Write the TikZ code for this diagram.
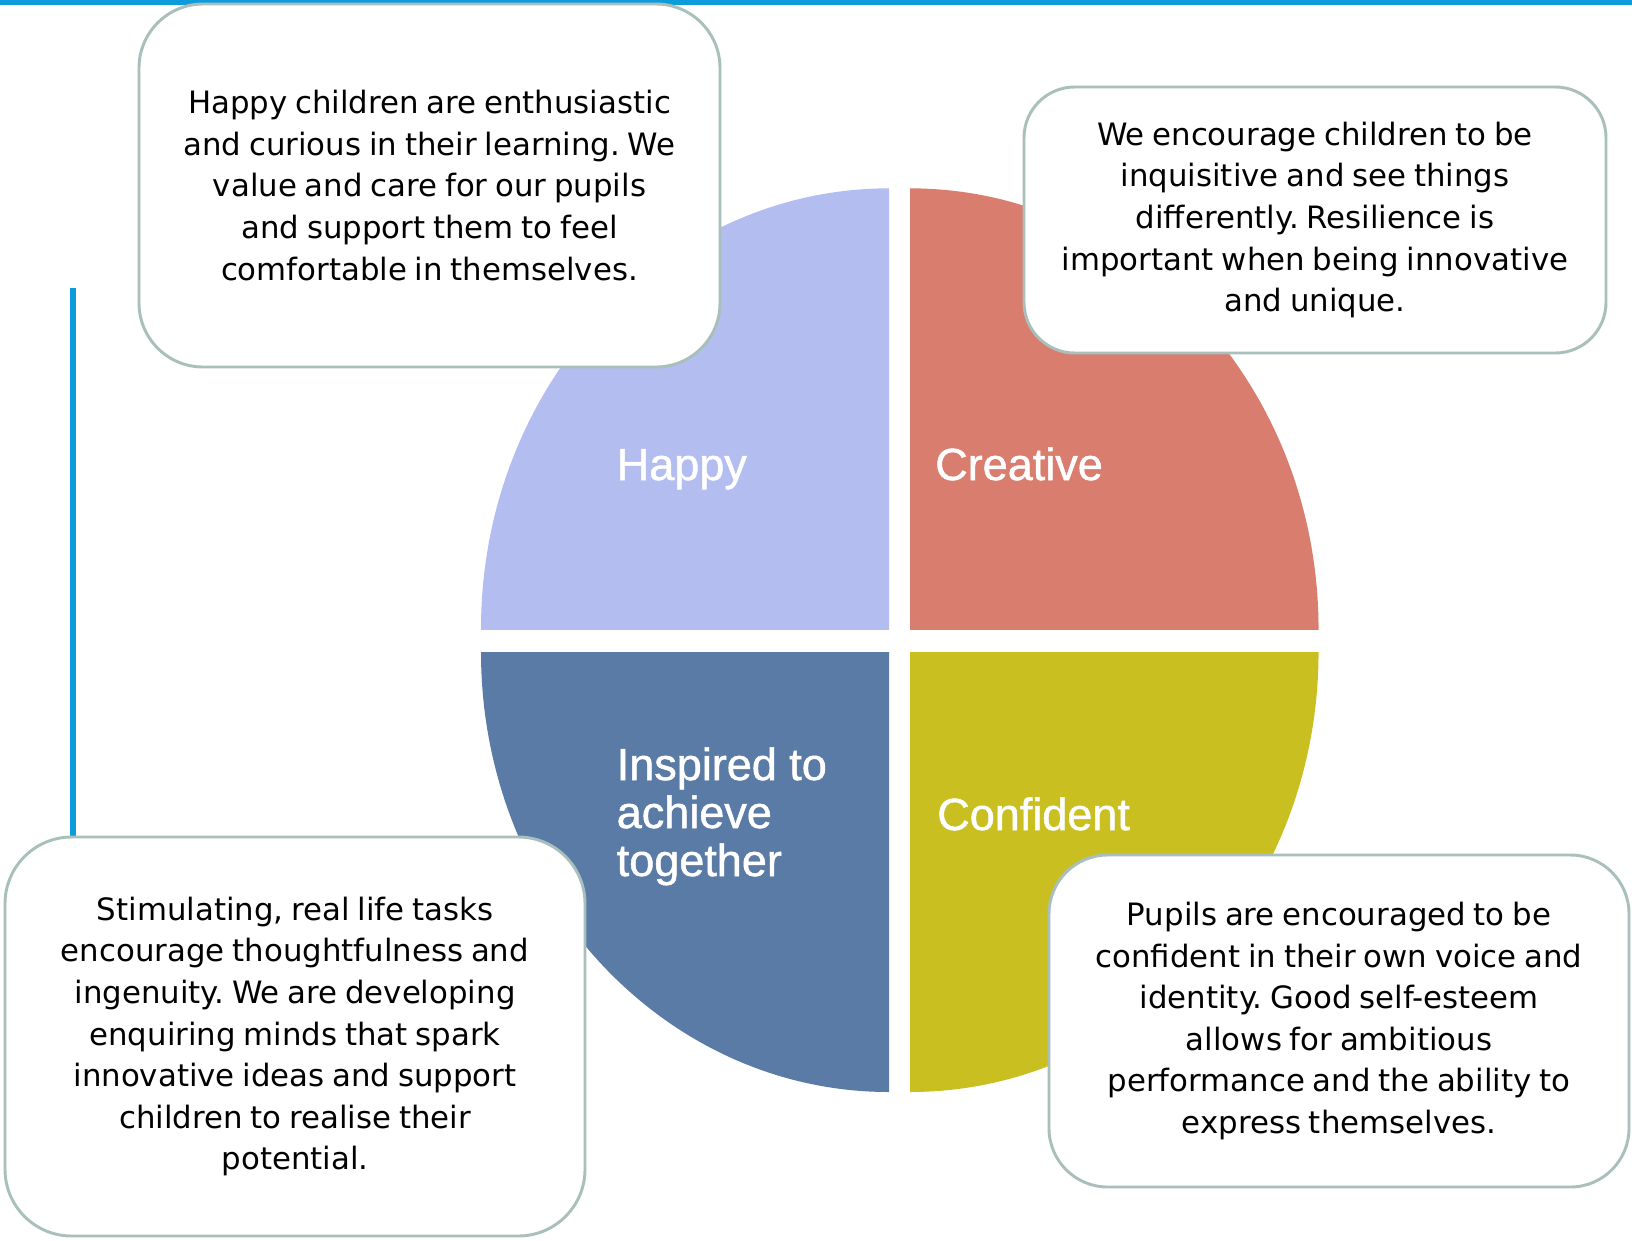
\documentclass[tikz,border=0pt]{standalone}
\usepackage{fontspec}
\setmainfont{Liberation Sans}
\newfontface\labelfont{Liberation Sans}[FakeBold=1.1]
\newfontfamily\descfont{DejaVu Sans}[WordSpace=0.8]
\frenchspacing
\definecolor{happyc}{HTML}{B4BDF0}
\definecolor{creativec}{HTML}{D97D6E}
\definecolor{inspiredc}{HTML}{5A7BA6}
\definecolor{confidentc}{HTML}{C9BF21}
\definecolor{boxline}{HTML}{A9BFBC}
\definecolor{accent}{HTML}{0E9BDB}
\begin{document}
\begin{tikzpicture}[x=0.75pt,y=-0.75pt,
  descbox/.style={draw=boxline, line width=2.2pt, fill=white, align=center,
    inner sep=0pt, font=\descfont\fontsize{23.1pt}{31.2pt}\selectfont},
  qlabel/.style={text=white, inner sep=0pt, anchor=base west, align=left,
    font=\labelfont\fontsize{33.75pt}{36pt}\selectfont}]
\useasboundingbox (0,0) rectangle (1632,1240);
% accent lines
\fill[accent] (0,0) rectangle (1632,5);
\fill[accent] (70,288) rectangle (75.5,837);
% quadrants
\begin{scope}
\clip (470,180) rectangle (889,629);
\fill[happyc] (889,629) ellipse [x radius=306pt, y radius=330.5pt];
\end{scope}
\begin{scope}
\clip (910,180) rectangle (1330,629);
\fill[creativec] (910,629) ellipse [x radius=306.4pt, y radius=330.5pt];
\end{scope}
\begin{scope}
\clip (470,652) rectangle (889,1100);
\fill[inspiredc] (889,652) ellipse [x radius=306pt, y radius=330pt];
\end{scope}
\begin{scope}
\clip (910,652) rectangle (1330,1100);
\fill[confidentc] (910,652) ellipse [x radius=306.4pt, y radius=330pt];
\end{scope}
% labels
\node[qlabel] (lhappy) at (616.5,480) {Happy};
\node[qlabel] (lcreative) at (935,480) {Creative};
\node[qlabel] (linspired) at (616.5,876) {Inspired to\\achieve\\together};
\node[qlabel] (lconfident) at (937,830) {Confident};
% description boxes
\node[descbox, rounded corners=48pt, minimum width=435.75pt, minimum height=272.25pt] (bhappy) at (429.5,185.5)
 {Happy children are enthusiastic\\and curious in their learning. We\\value and care for our pupils\\and support them to feel\\comfortable in themselves.};
\node[descbox, rounded corners=38pt, minimum width=436.5pt, minimum height=199.5pt] (bcreative) at (1315,220)
 {We encourage children to be\\inquisitive and see things\\differently. Resilience is\\important when being innovative\\and unique.};
\node[descbox, rounded corners=50pt, minimum width=435pt, minimum height=299.25pt] (binspired) at (295,1036.5)
 {Stimulating, real life tasks\\encourage thoughtfulness and\\ingenuity. We are developing\\enquiring minds that spark\\innovative ideas and support\\children to realise their\\potential.};
\node[descbox, rounded corners=44pt, minimum width=435pt, minimum height=249pt] (bconfident) at (1339,1021)
 {Pupils are encouraged to be\\confident in their own voice and\\identity. Good self-esteem\\allows for ambitious\\performance and the ability to\\express themselves.};
\end{tikzpicture}
\end{document}
